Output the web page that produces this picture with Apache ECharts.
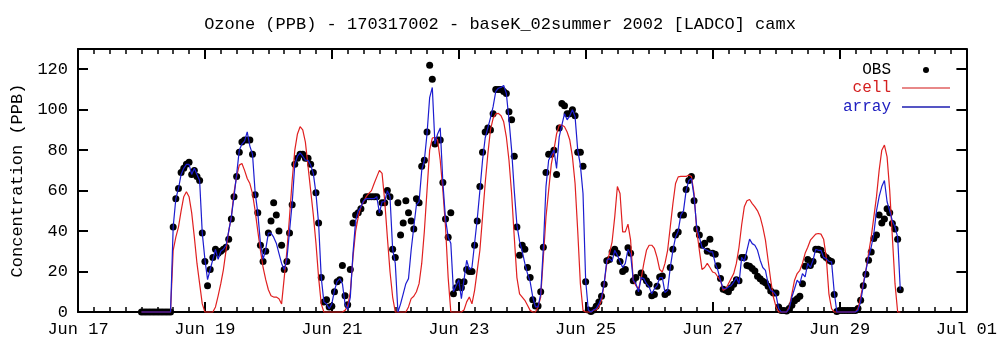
<!DOCTYPE html>
<html><head><meta charset="utf-8">
<script src="https://cdn.jsdelivr.net/npm/echarts@6/dist/echarts.min.js"></script>
<style>html,body{margin:0;padding:0;background:#fff}#c{width:1000px;height:347px}</style>
</head><body><div id="c"></div>
<script>
// hours since Jun 17 00:00; data start Jun 18 00:00, hourly
const startHour = 24;
const xTickLabels = ['Jun 17','Jun 19','Jun 21','Jun 23','Jun 25','Jun 27','Jun 29','Jul 01'];
const yTicks = [0,20,40,60,80,100,120];
const obs = [
0,0,0,0,0,0,0,0,0,0,0,0, 42,56,61,69,71,73,74,68,70,67,65,39,
25,13,21,27,31,29,30,31,32,36,46,57, 67,79,84,85,85,85,78,58,49,33,25,30,
39,45,54,48,40,33,21,25,39,53,73,76, 78,78,76,76,73,69,59,44,17,5,6,2.5,
2.8,10,15,16,23,8,3.6,21,44,48,49,51, 55,57,57,57,57,57,49,54,54,60,57,31,
27,54,38,44,55,49,45,41,56,54,72,75, 89,122,115,83,85,85,64,46,37,49,9,12,
15,12,15,21,20,20,33,45,62,79,89,91, 90,98,110,110,110,109,108,99,95,77,42,28,
33,31,22,17,6,3,3,10,32,69,78,78, 80,68,91,103,102,98,98,100,97,79,79,72,
15,1,0.3,1,2.8,5,7.8,13.7,25.3,26,29.7,31, 29,25,20,21,31.7,29,15.4,17,9.6,19.3,17.3,15.4,
13.7,8,8.7,12.7,17.3,17.8,8.7,9.6,22,31,38,39.6, 48,48,60.6,65,67,55,41,38,33,34,30,36,
29,28.5,22.8,16.5,11.2,10.7,10,12,13.7,16,15.4,27, 27,23,22.6,21.5,20.3,17.7,16.4,15.2,14.5,12.7,10.4,9.4,
9.4,2.5,0.8,0.8,0.5,1.7,3.3,5.5,6.6,7.8,14,22.6, 26,23,25,31,31,30.5,28,27,25.6,25,8.7,0.3,
0.8,0.8,0.8,0.8,0.8,0.8,0.8,1.7,5.8,13,18.6,25.6, 29.7,36.3,38,47.9,44,46,51,49,43.7,41,36,11
];
const cell = [
0,0,0,0,0,0,0,0,0,0,0,0, 30.5,37,42,50,57,59.4,57,49,37,24,14,4,
0,0,0,0,2.5,8,14,21,30.5,40,47,59, 67,72.6,73.4,70,66,63.5,58.5,50,40,30.5,22,16,
11,8,7.4,7.4,6.6,4,17,30,47,65,80,88, 91.6,90,84,72,60,48,34,17,4,0,0,0,
0,0,0,0,0,0.8,3,10,27,40,47,52, 54.5,57,58.6,60,63.5,66.8,70,68.5,55,37,20,7.4,
0,0,0,0,0,2.5,6.6,7.8,10,14,24,40, 60,80,86,86.3,85,75,60,42,17,0,0,0,
0,0,1,5,7.4,4,10.7,20.6,30.5,47,63.5,78, 90,95.7,98,98.2,97,94,86.6,75,58.6,37,17,9,
7.4,5.8,3.3,0.8,0,0,2.5,7.4,27,47,60,73, 80,88,92.4,92.4,91.6,89,85,76.7,63.5,40,14,0.8,
0,0,0,1,1,2.5,5.8,14,24,29,34.7,47, 62,58.6,39.6,39.6,43.4,35.5,15.7,13,11.5,16.5,24,30.5,
33,33,31.4,27,21,19.8,24,30.5,42,53.6,63.5,66.8, 67,67,67,67.7,67,58.6,40.4,30.5,21,22,24,22,
19.8,19.3,17.3,15.7,10.7,11.5,14,16.5,19,24,32,43, 52,55,55.6,53.6,52,50,47,42,35.5,25.6,15.7,7.4,
2.5,0,0,0,0,2.5,9,15.7,19,20.6,24,29, 32,35.5,37,38.5,38.8,38.5,36,27,9,1.7,0,0,
0,0,0,0,0,0,0,1.7,7.4,14,20.6,29, 37,47,57,70,80,82.5,76.7,60,37,14,0,0
];
const array = [
0,0,0,0,0,0,0,0,0,0,0,0, 42,56,61,68,71,73,73,68,71,68,65,39,
26,16,21,26,31,26,30,31,33,40,47,57, 68,80,83,84.5,89,82,78,59,49,34,26,31,
39,39,37,34,29,24,21,26,40,53.6,73,77, 78.7,77,75,75,72.6,68.5,58.6,43.7,17,5,4,1.6,
4,10.7,15,16.5,14,4,1.2,7.4,29,45,50,52, 55,56,56,56,56,57,49,54.5,54.5,60,57,31,
24,0,4,9,14,16.5,30.5,42,53,54.5,70,75, 88,106,111,83,88,91,64,46,37,34,10,13,
16,6.6,16,25.6,21,22,34,46,60,75,86,91, 96,101.5,109,110.6,111,112,108,95,80,60,43,35,
30,24,19,15,7.4,2.5,2.5,9,32,62,75,77.6, 80,71,86.6,92.4,98,95,97,100,96.5,80,72.6,58.6,
15.7,1,0,1,1.7,4,7.4,14,25.6,26.4,25,30.5, 28,25,22,24,31,28.5,15.7,14,10,17,16.5,14,
12.4,9,11.5,13,17,17,9.6,10.7,22,30.5,37,40, 48,50,60,65,66,57,42,37,32,31,30.5,29.7,
29.7,24,20.6,15.7,11.5,11.5,12.4,13,14.8,17,14,27, 25,30.5,36,33.8,33,30.5,25.6,22,20.6,14,10.7,9.9,
8.3,1.7,0,0,0,1.7,7.4,11.5,15.7,14,19,17.3, 24,22,25.6,31,30.5,30.5,27,26.4,25,24.8,10,0,
0,0,0,0,0,0,0,0.8,5,13,20.6,27, 32,38.8,50,57,62,65,54.5,50,45,42,37,11
];

const FONT = 'Liberation Mono';
const pts = arr => arr.map((v, i) => [startHour + i, v]);
const chart = echarts.init(document.getElementById('c'), null, {renderer: 'canvas'});

const xBase = {
  type: 'value', min: 0, max: 336, interval: 48,
  splitLine: {show: false},
  axisLine: {show: true, onZero: false, lineStyle: {color: '#000', width: 2}},
  axisTick: {show: true, inside: true, length: 10, lineStyle: {color: '#000', width: 2}},
  minorTick: {show: true, splitNumber: 8, length: 5, lineStyle: {color: '#000', width: 1.5}},
  minorSplitLine: {show: false}
};
const yBase = {
  type: 'value', min: 0, max: 130, interval: 20,
  splitLine: {show: false},
  axisLine: {show: true, onZero: false, lineStyle: {color: '#000', width: 2}},
  axisTick: {show: true, inside: true, length: 10, lineStyle: {color: '#000', width: 2}}
};

const legendBase = {
  orient: 'vertical', align: 'right', right: 50, itemWidth: 48, padding: 0,
  selectedMode: false, textStyle: {fontFamily: FONT, fontSize: 16, padding: [0, 6, 0, 0]}
};

chart.setOption({
  animation: false,
  backgroundColor: '#fff',
  title: {
    text: 'Ozone (PPB) - 170317002 - baseK_02summer 2002 [LADCO] camx',
    left: 'center', top: 11,
    textStyle: {fontFamily: FONT, fontSize: 17, fontWeight: 'normal', color: '#000'}
  },
  grid: {left: 78, right: 30, top: 49, bottom: 35, containLabel: false},
  xAxis: [
    Object.assign({}, xBase, {position: 'bottom',
      axisLabel: {show: true, margin: 9, color: '#000', fontFamily: FONT, fontSize: 17,
        formatter: v => xTickLabels[Math.round(v / 48)] || ''}}),
    Object.assign({}, xBase, {position: 'top', axisLabel: {show: false}})
  ],
  yAxis: [
    Object.assign({}, yBase, {position: 'left',
      name: 'Concentration (PPB)', nameLocation: 'middle', nameGap: 52, nameRotate: 90,
      nameTextStyle: {fontFamily: FONT, fontSize: 17, color: '#000'},
      axisLabel: {show: true, margin: 10, color: '#000', fontFamily: FONT, fontSize: 17,
        formatter: v => (yTicks.indexOf(v) >= 0 ? String(v) : '')}}),
    Object.assign({}, yBase, {position: 'right', axisLabel: {show: false}})
  ],
  legend: [
    Object.assign({}, legendBase, {top: 62, right: 71, itemHeight: 6,
      data: [{name: 'OBS', icon: 'circle', textStyle: {color: '#000'}}]}),
    Object.assign({}, legendBase, {top: 80, itemHeight: 1.5,
      data: [{name: 'cell', icon: 'rect', itemStyle: {color: '#e06060'}, textStyle: {color: '#d42020'}}]}),
    Object.assign({}, legendBase, {top: 99, itemHeight: 1.5,
      data: [{name: 'array', icon: 'rect', itemStyle: {color: '#1c1cb0'}, textStyle: {color: '#2020c0'}}]})
  ],
  series: [
    {name: 'OBS', type: 'scatter', data: pts(obs), symbol: 'circle', symbolSize: 7,
      itemStyle: {color: '#000', opacity: 1}, clip: false, z: 2},
    {name: 'cell', type: 'line', data: pts(cell), symbol: 'none', clip: false,
      lineStyle: {color: '#e02020', width: 1.2}, itemStyle: {color: '#e02020'}, z: 3},
    {name: 'array', type: 'line', data: pts(array), symbol: 'none', clip: false,
      lineStyle: {color: '#1c1cd0', width: 1.2}, itemStyle: {color: '#1c1cd0'}, z: 4}
  ]
});
</script></body></html>
